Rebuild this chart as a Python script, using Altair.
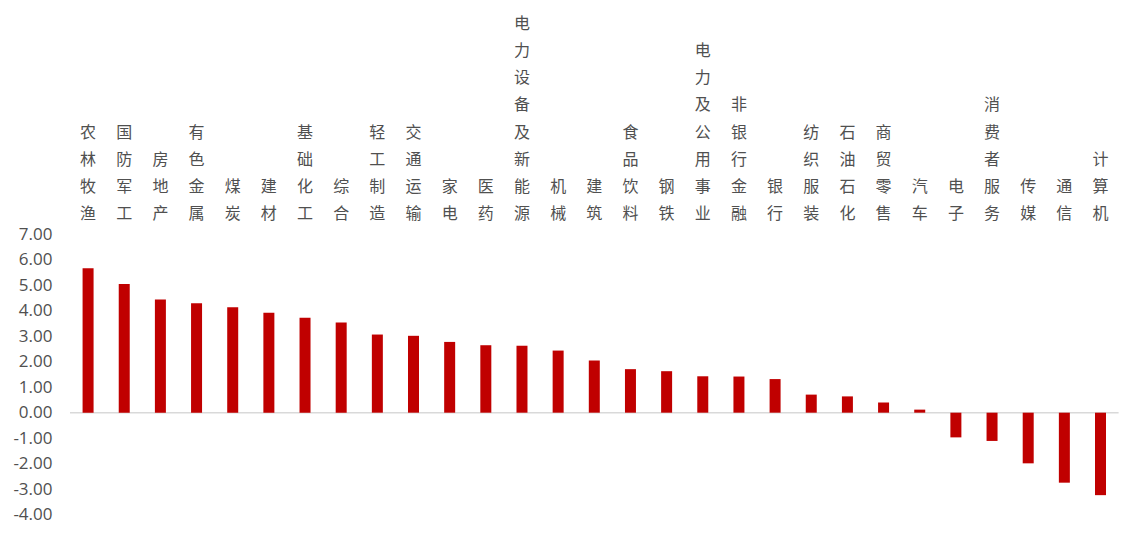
import altair as alt
import pandas as pd

categories = ["农林牧渔", "国防军工", "房地产", "有色金属", "煤炭", "建材", "基础化工", "综合",
              "轻工制造", "交通运输", "家电", "医药", "电力设备及新能源", "机械", "建筑",
              "食品饮料", "钢铁", "电力及公用事业", "非银行金融", "银行", "纺织服装", "石油石化",
              "商贸零售", "汽车", "电子", "消费者服务", "传媒", "通信", "计算机"]
values = [5.67, 5.06, 4.45, 4.30, 4.14, 3.93, 3.73, 3.54,
          3.07, 3.02, 2.78, 2.65, 2.63, 2.44, 2.05,
          1.71, 1.63, 1.43, 1.42, 1.32, 0.71, 0.64,
          0.40, 0.12, -0.97, -1.11, -1.99, -2.75, -3.24]
y_ticks = [-4, -3, -2, -1, 0, 1, 2, 3, 4, 5, 6, 7]

df = pd.DataFrame({"industry": categories, "value": values})
zero_df = pd.DataFrame({"zero": [0]})

# category labels are written vertically, one character per line, bottom-aligned
label_rows = []
for name in categories:
    n = len(name)
    for i, ch in enumerate(name):
        label_rows.append({"industry": name, "ch": ch, "line": n - 1 - i})
label_df = pd.DataFrame(label_rows)

text_color = "#505050"

y_axis = alt.Axis(
    title=None, ticks=False, domain=False, grid=False, values=y_ticks,
    labelOverlap=False, labelFlush=False,
    labelExpr="datum.value < 0 ? '-' + format(-datum.value, '.2f') : format(datum.value, '.2f')",
    labelFont="Open Sans", labelFontSize=17, labelColor=text_color, labelPadding=18,
)
y_scale = alt.Scale(domain=[-4, 7], nice=False, zero=False)
x_enc = alt.X("industry:N", sort=categories,
              scale=alt.Scale(paddingInner=0, paddingOuter=0), axis=None)

rule = alt.Chart(zero_df).mark_rule(color="#d9d9d9", strokeWidth=1.5).encode(
    y=alt.Y("zero:Q", scale=y_scale, axis=None)
)
bars = alt.Chart(df).mark_bar(color="#C00000", size=11).encode(
    x=x_enc,
    y=alt.Y("value:Q", scale=y_scale, axis=y_axis),
)
labels = alt.Chart(label_df).mark_text(
    font="Noto Sans CJK SC", fontSize=16, color=text_color, baseline="middle", align="center"
).encode(
    x=x_enc,
    y=alt.Y("line:Q", scale=alt.Scale(domain=[0, 7], range=[-20.5, -210.5]), axis=None),
    text="ch:N",
)

chart = alt.layer(rule, bars, labels).resolve_scale(y="independent").properties(
    width=1048.6, height=280,
    background="white",
    autosize=alt.AutoSizeParams(type="none"),
    padding={"left": 70, "top": 234.5, "right": 9.4, "bottom": 22.5},
).configure_view(strokeWidth=0, stroke="transparent")

chart.save("out.html", embed_options={"renderer": "svg", "actions": False})
